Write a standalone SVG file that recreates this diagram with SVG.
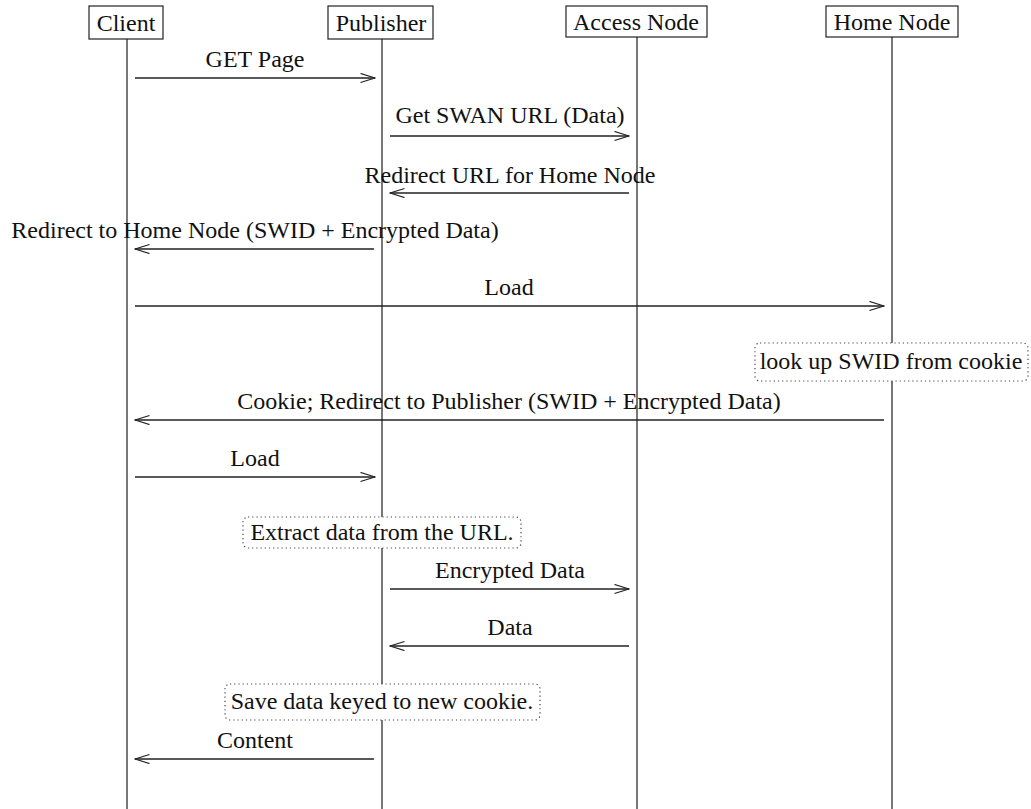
<svg xmlns="http://www.w3.org/2000/svg" width="1031" height="809" viewBox="0 0 1031 809">
  <style>
    text { font-family: "Liberation Serif", "Times New Roman", serif; font-size: 24px; fill: #111; }
    .head rect { fill: #fff; stroke: #222; stroke-width: 1.2; }
    .life { stroke: #555; stroke-width: 1.6; }
    .msg { stroke: #222; stroke-width: 1.3; fill: none; }
    .note rect { fill: #fff; stroke: #444; stroke-width: 1.2; stroke-dasharray: 1.2 3; }
  </style>
  <defs>
    <marker id="arrow" markerUnits="userSpaceOnUse" markerWidth="16" markerHeight="12" refX="15" refY="5" orient="auto">
      <path d="M0.5,0.5 L15,5 L0.5,9.5" fill="none" stroke="#222" stroke-width="1.3"/>
    </marker>
  </defs>

  <!-- lifelines -->
  <g id="lifelines">
    <line class="life" x1="127" y1="39" x2="127" y2="809"/>
    <line class="life" x1="382" y1="39" x2="382" y2="809"/>
    <line class="life" x1="637" y1="37" x2="637" y2="809"/>
    <line class="life" x1="892" y1="37" x2="892" y2="809"/>
  </g>

  <!-- participants -->
  <g id="client" class="head">
    <rect x="89" y="6" width="74" height="33"/>
    <text x="126" y="31" text-anchor="middle">Client</text>
  </g>
  <g id="publisher" class="head">
    <rect x="328" y="6" width="105" height="33"/>
    <text x="381" y="31" text-anchor="middle">Publisher</text>
  </g>
  <g id="access-node" class="head">
    <rect x="566" y="6" width="141" height="31"/>
    <text x="636" y="30" text-anchor="middle">Access Node</text>
  </g>
  <g id="home-node" class="head">
    <rect x="826" y="6" width="132" height="31"/>
    <text x="892" y="30" text-anchor="middle">Home Node</text>
  </g>

  <!-- messages -->
  <g id="connectors">
    <line class="msg" x1="135" y1="78" x2="375" y2="78" marker-end="url(#arrow)"/>
    <text x="255" y="67" text-anchor="middle">GET Page</text>

    <line class="msg" x1="390" y1="136" x2="629" y2="136" marker-end="url(#arrow)"/>
    <text x="510" y="123" text-anchor="middle">Get SWAN URL (Data)</text>

    <line class="msg" x1="629" y1="193" x2="390" y2="193" marker-end="url(#arrow)"/>
    <text x="510" y="183" text-anchor="middle">Redirect URL for Home Node</text>

    <line class="msg" x1="374" y1="249" x2="135" y2="249" marker-end="url(#arrow)"/>
    <text x="255" y="238" text-anchor="middle">Redirect to Home Node (SWID + Encrypted Data)</text>

    <line class="msg" x1="135" y1="306" x2="884" y2="306" marker-end="url(#arrow)"/>
    <text x="509" y="295" text-anchor="middle">Load</text>

    <line class="msg" x1="884" y1="420" x2="135" y2="420" marker-end="url(#arrow)"/>
    <text x="509" y="409" text-anchor="middle">Cookie; Redirect to Publisher (SWID + Encrypted Data)</text>

    <line class="msg" x1="135" y1="477" x2="375" y2="477" marker-end="url(#arrow)"/>
    <text x="255" y="466" text-anchor="middle">Load</text>

    <line class="msg" x1="390" y1="589" x2="629" y2="589" marker-end="url(#arrow)"/>
    <text x="510" y="578" text-anchor="middle">Encrypted Data</text>

    <line class="msg" x1="629" y1="646" x2="390" y2="646" marker-end="url(#arrow)"/>
    <text x="510" y="635" text-anchor="middle">Data</text>

    <line class="msg" x1="374" y1="759" x2="135" y2="759" marker-end="url(#arrow)"/>
    <text x="255" y="748" text-anchor="middle">Content</text>
  </g>

  <!-- notes -->
  <g id="note-lookup" class="note">
    <rect x="755" y="343" width="273" height="38" rx="5"/>
    <text x="891" y="369" text-anchor="middle">look up SWID from cookie</text>
  </g>
  <g id="note-extract" class="note">
    <rect x="243" y="517" width="278" height="31" rx="5"/>
    <text x="382" y="540" text-anchor="middle">Extract data from the URL.</text>
  </g>
  <g id="note-save" class="note">
    <rect x="225" y="684" width="315" height="36" rx="5"/>
    <text x="382" y="709" text-anchor="middle">Save data keyed to new cookie.</text>
  </g>
</svg>
